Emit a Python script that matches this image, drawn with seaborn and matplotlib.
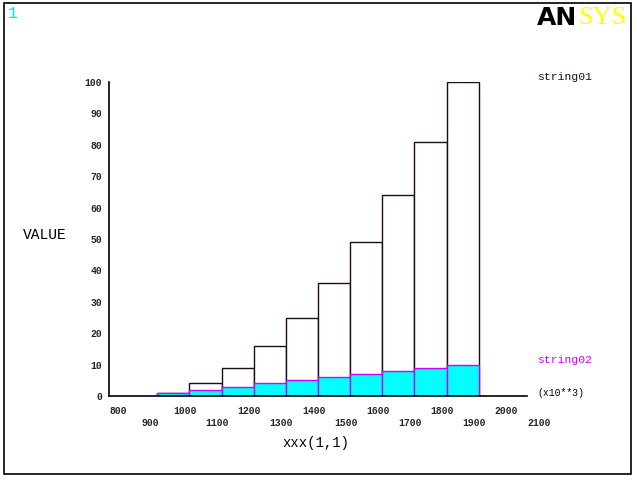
import numpy as np
import matplotlib
matplotlib.use('Agg')
import matplotlib.pyplot as plt
import seaborn as sns
from matplotlib.patches import Rectangle

# data
centers = [1000, 1100, 1200, 1300, 1400, 1500, 1600, 1700, 1800, 1900]
string01 = [1, 4, 9, 16, 25, 36, 49, 64, 81, 100]
string02 = [1, 2, 3, 4, 5, 6, 7, 8, 9, 10]
xticks = list(range(800, 2101, 100))
yticks = list(range(0, 101, 10))

sns.set_style('white')
plt.rcParams['font.family'] = ['Liberation Mono', 'DejaVu Sans Mono']

fig = plt.figure(figsize=(6.37, 4.8), dpi=100)
ax = fig.add_axes([109 / 637, 84 / 480, 418 / 637, 314 / 480])

sns.barplot(x=centers, y=string01, native_scale=True, width=1.0, color='white',
            saturation=1, edgecolor='#200a20', linewidth=1.0, ax=ax)
sns.barplot(x=centers, y=string02, native_scale=True, width=1.0, color='#00ffff',
            saturation=1, edgecolor='#cc00ff', linewidth=1.0, ax=ax)

ax.set_xlim(800, 2100)
ax.set_ylim(0, 100)
ax.set_xticks(xticks)
ax.set_xticklabels([str(v) if i % 2 == 0 else '\n' + str(v) for i, v in enumerate(xticks)],
                   ha='left', fontweight='bold')
ax.set_yticks(yticks)
ax.set_yticklabels([str(v) for v in yticks], fontweight='bold')
ax.tick_params(axis='x', length=7, width=1, color='#909090', labelsize=7, pad=0.5)
ax.tick_params(axis='y', length=3, width=1, color='#909090', labelsize=7, pad=2)
for s in ['top', 'right']:
    ax.spines[s].set_visible(False)
for s in ['left', 'bottom']:
    ax.spines[s].set_color('black')
    ax.spines[s].set_linewidth(1.2)
ax.set_xlabel('')
ax.set_ylabel('')

fig.text(537 / 637, 1 - 77 / 480, 'string01', color='#200a20', fontsize=8.2, va='center')
fig.text(537 / 637, 1 - 360 / 480, 'string02', color='#cc00ff', fontsize=8.2, va='center')
fig.text(537 / 637, 1 - 393 / 480, '(x10**3)', color='black', fontsize=7, va='center')
fig.text(23 / 637, 1 - 235 / 480, 'VALUE', color='black', fontsize=10.5, va='center')
fig.text(316 / 637, 1 - 443 / 480, 'xxx(1,1)', color='black', fontsize=10,
         va='center', ha='center')
fig.text(8 / 637, 1 - 13 / 480, '1', color='#00e8ff', fontsize=12, va='center')

# ANSYS logo
fig.text(537 / 637, 1 - 18 / 480, 'AN', color='black', fontsize=18, fontweight='bold',
         family='DejaVu Sans', va='center')
fig.text(578 / 637, 1 - 18 / 480, 'SYS', color='#ffff00', fontsize=19,
         family='Liberation Serif', va='center')

fig.patches.append(Rectangle((4 / 637, 6 / 480), 627 / 637, 471 / 480, fill=False,
                             edgecolor='black', linewidth=1.2, transform=fig.transFigure))

fig.savefig('out.png', dpi=100)
